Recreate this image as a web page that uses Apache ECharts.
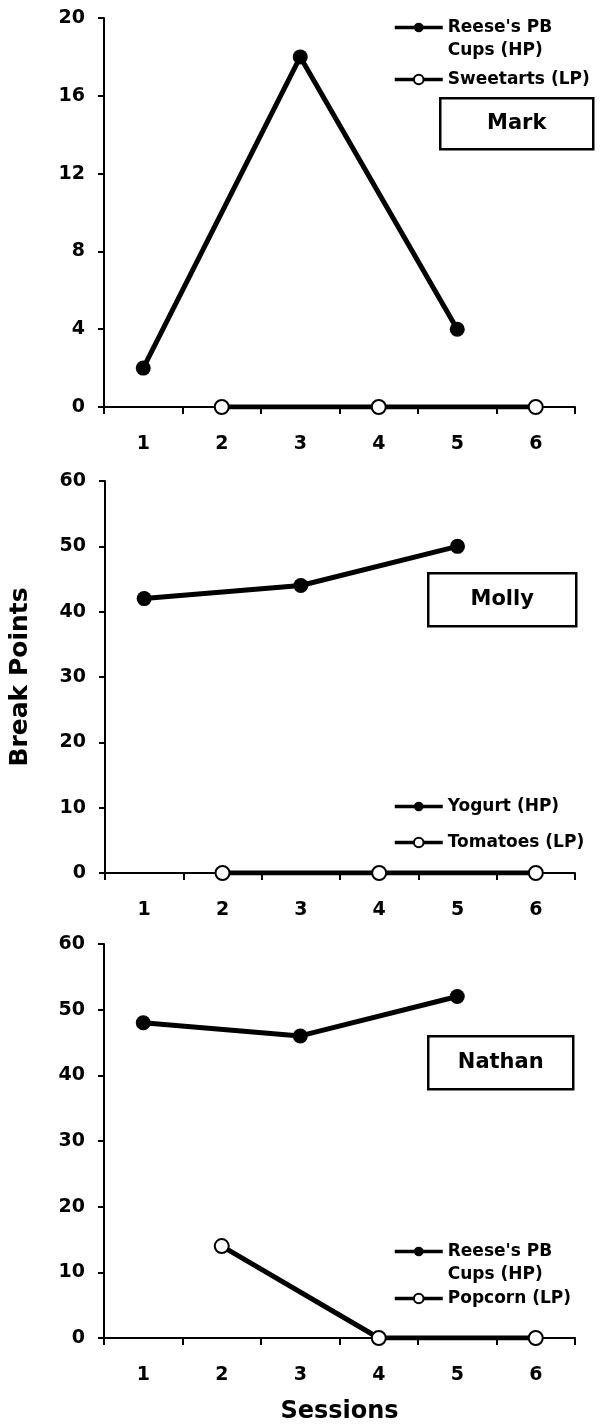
<!DOCTYPE html>
<html>
<head>
<meta charset="utf-8">
<script src="https://cdn.jsdelivr.net/npm/echarts@6/dist/echarts.min.js"></script>
<style>
html,body{margin:0;padding:0;background:#fff;}
#chart{width:600px;height:1428px;}
</style>
</head>
<body>
<div id="chart"></div>
<script>
const sessions = ['1', '2', '3', '4', '5', '6'];
const markHP = [2, null, 18, null, 4, null];
const markLP = [null, 0, null, 0, null, 0];
const mollyHP = [42, null, 44, null, 50, null];
const mollyLP = [null, 0, null, 0, null, 0];
const nathanHP = [48, null, 46, null, 52, null];
const nathanLP = [null, 14, null, 0, null, 0];
const participants = ['Mark', 'Molly', 'Nathan'];
const yMax = [20, 60, 60];
const yStep = [4, 10, 10];
const hpNames = ["Reese's PB Cups (HP)", 'Yogurt (HP)', "Reese's PB Cups (HP)"];
const lpNames = ['Sweetarts (LP)', 'Tomatoes (LP)', 'Popcorn (LP)'];
const yTitle = 'Break Points';
const xTitle = 'Sessions';

const FONT = 'DejaVu Sans';
const grids = [
  {left: 104, right: 25, top: 18, height: 389},
  {left: 104, right: 25, top: 481, height: 392},
  {left: 104, right: 25, top: 944, height: 394}
];
const hpData = [markHP, mollyHP, nathanHP];
const lpData = [markLP, mollyLP, nathanLP];

const legendLabel = {
  "Reese's PB Cups (HP)": "\nReese's PB\nCups (HP)",
  'Sweetarts (LP)': 'Sweetarts (LP)',
  'Yogurt (HP)': 'Yogurt (HP)',
  'Tomatoes (LP)': 'Tomatoes (LP)',
  'Popcorn (LP)': 'Popcorn (LP)'
};

const axisLineStyle = {color: '#000', width: 2};
const xAxes = grids.map((g, i) => ({
  type: 'category', gridIndex: i, data: sessions, boundaryGap: true,
  axisLine: {lineStyle: axisLineStyle},
  axisTick: {show: true, length: 7, lineStyle: axisLineStyle, alignWithLabel: false},
  axisLabel: {color: '#000', fontFamily: FONT, fontWeight: 'bold', fontSize: 19, margin: 28},
  name: i === 2 ? xTitle : '', nameLocation: 'middle', nameGap: 62,
  nameTextStyle: {color: '#000', fontFamily: FONT, fontWeight: 'bold', fontSize: 24}
}));
const yAxes = grids.map((g, i) => ({
  type: 'value', gridIndex: i, min: 0, max: yMax[i], interval: yStep[i],
  axisLine: {show: true, lineStyle: axisLineStyle},
  axisTick: {show: true, length: 6, lineStyle: axisLineStyle},
  splitLine: {show: false},
  axisLabel: {color: '#000', fontFamily: FONT, fontWeight: 'bold', fontSize: 19, margin: 19},
  name: i === 1 ? yTitle : '', nameLocation: 'middle', nameGap: 72, nameRotate: 90,
  nameTextStyle: {color: '#000', fontFamily: FONT, fontWeight: 'bold', fontSize: 25}
}));

const series = [];
for (let i = 0; i < 3; i++) {
  series.push({
    name: hpNames[i], type: 'line', xAxisIndex: i, yAxisIndex: i, data: hpData[i],
    connectNulls: true, symbol: 'circle', symbolSize: 15,
    lineStyle: {color: '#000', width: 5},
    itemStyle: {color: '#000'},
    animation: false, z: 3
  });
  series.push({
    name: lpNames[i], type: 'line', xAxisIndex: i, yAxisIndex: i, data: lpData[i],
    connectNulls: true, symbol: 'circle', symbolSize: 14,
    lineStyle: {color: '#000', width: 5},
    itemStyle: {color: '#fff', borderColor: '#000', borderWidth: 2},
    animation: false, z: 4
  });
}

const legendTops = [-7, 795, 1217];
const legendGaps = [6, 13, 1];
const legends = [0, 1, 2].map(i => ({
  data: [hpNames[i], lpNames[i]],
  orient: 'vertical', left: 393, top: legendTops[i], padding: 0,
  itemGap: legendGaps[i], itemWidth: 48, itemHeight: 12,
  selectedMode: false,
  lineStyle: {width: 3.5},
  formatter: n => legendLabel[n],
  textStyle: {color: '#000', fontFamily: FONT, fontWeight: 'bold', fontSize: 17, lineHeight: 23}
}));

const boxes = [
  {x: 439, y: 97, w: 153, h: 51},
  {x: 427, y: 572, w: 148, h: 53},
  {x: 427, y: 1035, w: 145, h: 53}
];
const graphic = boxes.map((b, i) => ({
  type: 'group', left: b.x, top: b.y, z: 10,
  children: [
    {type: 'rect', shape: {x: 0, y: 0, width: b.w, height: b.h},
     style: {fill: '#fff', stroke: '#000', lineWidth: 2.5}},
    {type: 'text', x: b.w / 2, y: b.h / 2,
     style: {text: participants[i], fill: '#000', font: 'bold 21px "DejaVu Sans"',
             align: 'center', verticalAlign: 'middle'}}
  ]
}));

const chart = echarts.init(document.getElementById('chart'), null, {renderer: 'canvas'});
chart.setOption({
  backgroundColor: '#fff',
  animation: false,
  grid: grids,
  xAxis: xAxes,
  yAxis: yAxes,
  legend: legends,
  series: series,
  graphic: graphic
});
</script>
</body>
</html>
